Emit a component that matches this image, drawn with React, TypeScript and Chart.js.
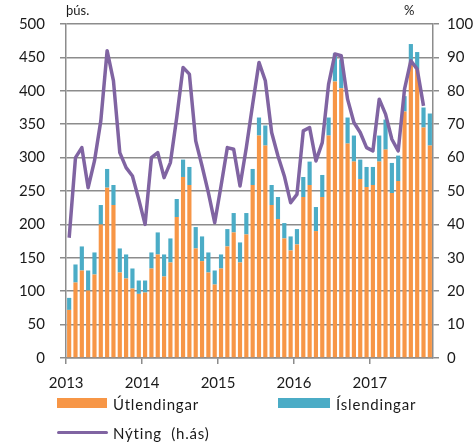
import React, { useEffect, useRef } from "react";
import { Chart, registerables } from "chart.js";

Chart.register(...registerables);

const years = ["2013", "2014", "2015", "2016", "2017"];
const monthCount = 58;

const utlendingar = [
  72, 113, 131, 101, 125, 200, 255, 229, 128, 119, 104, 96,
  98, 134, 155, 122, 143, 211, 271, 259, 164, 145, 128, 110,
  134, 167, 188, 143, 185, 259, 333, 318, 229, 208, 179, 161,
  170, 241, 259, 190, 241, 333, 414, 404, 321, 294, 268, 256,
  259, 294, 312, 247, 265, 369, 442, 432, 345, 318,
];

const islendingar = [
  18, 27, 36, 30, 33, 29, 28, 30, 36, 36, 30, 20,
  18, 24, 33, 33, 36, 27, 26, 27, 32, 37, 30, 21,
  21, 26, 29, 30, 32, 24, 27, 30, 30, 33, 23, 21,
  23, 30, 35, 36, 33, 27, 42, 43, 39, 39, 29, 30,
  27, 39, 45, 45, 38, 23, 28, 26, 30, 48,
];

const nyting: (number | null)[] = [
  36, 60, 63, 51, 59, 71, 92, 83, 61.5, 57, 54.5, 47.5,
  40, 60, 61.5, 54, 58.5, 72, 87, 85, 65, 57.5, 49.5, 40.5,
  51.5, 63, 62.5, 51.5, 63, 76, 88.5, 83, 67.5, 60.5, 54.5, 46.5,
  49, 68, 69, 59, 64.5, 82, 91, 90.5, 77.5, 70.5, 67.5, 63,
  62, 77.5, 73, 65.5, 62, 80.5, 89, 86.5, 75.5, null,
];

const categories: string[] = [];
for (let i = 0; i < monthCount; i++) {
  categories.push(years[Math.floor(i / 12)] + "-" + String((i % 12) + 1).padStart(2, "0"));
}

const ORANGE = "#F79646";
const TEAL = "#4BACC6";
const PURPLE = "#8064A2";
const GRID = "#8c8c8c";
const FONT = "Lato";
const TEXT = "#1a1a1a";

export default function App() {
  const ref = useRef<HTMLCanvasElement>(null);

  useEffect(() => {
    if (!ref.current) return;
    const chart = new Chart(ref.current, {
      type: "bar",
      data: {
        labels: categories,
        datasets: [
          {
            type: "bar",
            label: "Útlendingar",
            data: utlendingar,
            backgroundColor: ORANGE,
            yAxisID: "y",
            stack: "s",
            order: 1,
            barPercentage: 0.66,
            categoryPercentage: 1,
          },
          {
            type: "bar",
            label: "Íslendingar",
            data: islendingar,
            backgroundColor: TEAL,
            yAxisID: "y",
            stack: "s",
            order: 1,
            barPercentage: 0.66,
            categoryPercentage: 1,
          },
          {
            type: "line",
            label: "Nýting (h.ás)",
            data: nyting,
            borderColor: PURPLE,
            backgroundColor: PURPLE,
            borderWidth: 3.5,
            pointRadius: 0,
            tension: 0,
            yAxisID: "y1",
            order: 0,
            borderJoinStyle: "round",
          } as any,
        ],
      },
      options: {
        responsive: false,
        animation: false,
        layout: { padding: { top: 22, left: 0, right: 0, bottom: 0 } },
        plugins: { legend: { display: false }, tooltip: { enabled: false }, title: { display: false } },
        scales: {
          x: {
            stacked: true,
            offset: true,
            grid: {
              offset: true,
              drawOnChartArea: false,
              drawTicks: true,
              tickLength: 6,
              lineWidth: 1.5,
              color: (ctx: any) => (ctx.index % 12 === 0 ? GRID : "rgba(0,0,0,0)"),
            },
            border: { display: true, color: GRID, width: 1.5 },
            ticks: {
              autoSkip: false,
              maxRotation: 0,
              minRotation: 0,
              padding: 10,
              labelOffset: -3,
              color: TEXT,
              font: { family: FONT, size: 15 },
              callback: (_v: any, idx: number) => (idx % 12 === 0 ? years[idx / 12] : ""),
            },
            afterFit: (s: any) => {
              s.height = 85;
            },
          },
          y: {
            position: "left",
            stacked: true,
            min: 0,
            max: 500,
            ticks: { stepSize: 50, padding: 15, color: TEXT, font: { family: FONT, size: 15 } },
            grid: { color: GRID, lineWidth: 1.5, tickLength: 6 },
            border: { display: true, color: GRID, width: 1.5 },
            afterFit: (s: any) => {
              s.width = 66;
            },
          },
          y1: {
            position: "right",
            min: 0,
            max: 100,
            ticks: { stepSize: 10, padding: 8, color: TEXT, font: { family: FONT, size: 15 } },
            grid: { drawOnChartArea: false, color: GRID, lineWidth: 1.5, tickLength: 6 },
            border: { display: true, color: GRID, width: 1.5 },
            afterFit: (s: any) => {
              s.width = 42;
            },
          },
        },
      },
    });
    return () => chart.destroy();
  }, []);

  const txt: React.CSSProperties = {
    position: "absolute",
    fontFamily: FONT,
    fontSize: 15,
    color: TEXT,
    whiteSpace: "nowrap",
    lineHeight: "16px",
    letterSpacing: "0.8px",
  };

  return (
    <div style={{ position: "fixed", left: 0, top: 0, width: 475, height: 443, background: "#fff" }}>
      <canvas ref={ref} width={475} height={443} style={{ position: "absolute", left: 0, top: 0 }} />
      <div style={{ ...txt, left: 66, top: 2, fontSize: 13, letterSpacing: 0 }}>þús.</div>
      <div style={{ ...txt, left: 404, top: 2, fontSize: 13, letterSpacing: 0 }}>%</div>
      <div style={{ position: "absolute", left: 57, top: 398, width: 50, height: 10, background: ORANGE }} />
      <div style={{ ...txt, left: 113, top: 396 }}>Útlendingar</div>
      <div style={{ position: "absolute", left: 278, top: 398, width: 52, height: 10, background: TEAL }} />
      <div style={{ ...txt, left: 336, top: 396 }}>Íslendingar</div>
      <div style={{ position: "absolute", left: 57, top: 431, width: 51, height: 3, background: PURPLE, borderRadius: 2 }} />
      <div style={{ ...txt, left: 113, top: 425 }}>Nýting&nbsp; (h.ás)</div>
    </div>
  );
}
